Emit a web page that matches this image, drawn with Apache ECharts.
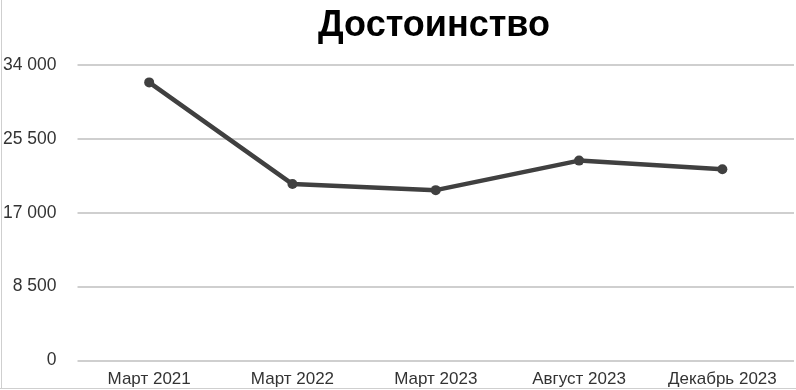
<!DOCTYPE html>
<html><head><meta charset="utf-8">
<script src="https://cdn.jsdelivr.net/npm/echarts@6/dist/echarts.min.js"></script>
<style>html,body{margin:0;padding:0;background:#fff}#c{width:796px;height:390px}</style>
</head><body><div id="c"></div>
<script>
const titleText = 'Достоинство';
const categories = ['Март 2021', 'Март 2022', 'Март 2023', 'Август 2023', 'Декабрь 2023'];
const values = [32000, 20300, 19600, 23000, 22000];
const yTicks = [0, 8500, 17000, 25500, 34000];

const chart = echarts.init(document.getElementById('c'), null, {renderer: 'canvas'});
chart.setOption({
  animation: false,
  backgroundColor: '#fff',
  title: {
    text: titleText, left: 429, top: 3, textAlign: 'center',
    textStyle: {fontFamily: 'Liberation Sans', fontWeight: 'bold', fontSize: 36, color: '#000'}
  },
  grid: {left: 76, right: 2, top: 65, bottom: 29.5, containLabel: false},
  xAxis: {
    type: 'category', data: categories, boundaryGap: true,
    axisLine: {show: false}, axisTick: {show: false},
    axisLabel: {interval: 0, hideOverlap: false, fontFamily: 'Liberation Sans', fontSize: 17, color: '#333', margin: 10}
  },
  yAxis: {
    type: 'value', min: yTicks[0], max: yTicks[yTicks.length - 1], interval: yTicks[1] - yTicks[0],
    axisLine: {show: false}, axisTick: {show: false},
    splitLine: {lineStyle: {color: '#cfcfcf', width: 2}},
    axisLabel: {
      fontFamily: 'Liberation Sans', fontSize: 17.5, color: '#333', margin: 21,
      formatter: v => String(v).replace(/\B(?=(\d{3})+(?!\d))/g, ' ')
    }
  },
  series: [{
    type: 'line', data: values, symbol: 'circle', symbolSize: 10,
    lineStyle: {color: '#404040', width: 4.5},
    itemStyle: {color: '#404040'}
  }],
  graphic: [
    {type: 'line', shape: {x1: 1.5, y1: 0, x2: 1.5, y2: 389}, style: {stroke: '#cfcfcf', lineWidth: 1}},
    {type: 'line', shape: {x1: 0, y1: 388.5, x2: 796, y2: 388.5}, style: {stroke: '#cfcfcf', lineWidth: 1}}
  ]
});
</script></body></html>
